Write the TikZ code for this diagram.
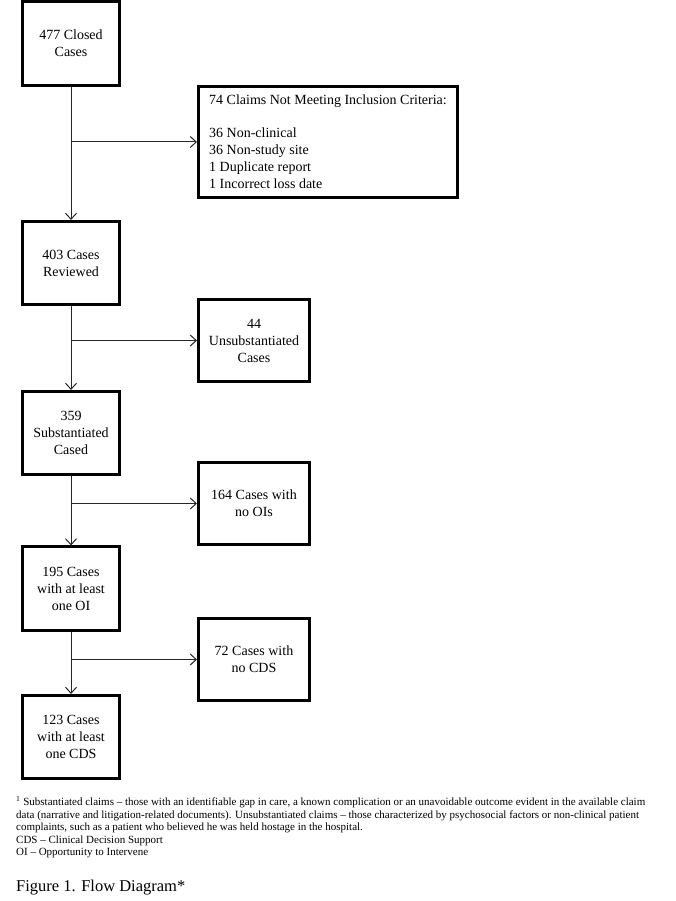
\documentclass[tikz,border=0pt]{standalone}
\usepackage{fontspec}
\setmainfont{Liberation Serif}
\usetikzlibrary{arrows.meta}
\begin{document}
\begin{tikzpicture}[x=1pt,y=-1pt,
  box/.style={draw=black, line width=2.6pt, inner sep=0pt, align=center,
    font=\fontsize{14}{17}\selectfont},
  smallbox/.style={box, minimum width=111.5pt, minimum height=82.5pt},
  mainbox/.style={box, minimum width=97.5pt, minimum height=83.5pt},
  listbox/.style={box, align=left, font=\fontsize{14}{17}\selectfont,
    minimum width=259.5pt, minimum height=111.5pt},
  arr/.style={draw=black!85, line width=1pt,
    -{Straight Barb[length=6pt,width=11pt,line width=1pt]}},
  foot/.style={anchor=base west, inner sep=0pt, font=\fontsize{11}{12.7}\selectfont},
  caption/.style={anchor=base west, inner sep=0pt, font=\fontsize{16.5}{19}\selectfont}]
\useasboundingbox[fill=white] (0,0) rectangle (676,901);

% main column
\node[mainbox] (n1) at (71,43.5) {477 Closed\\Cases};
\node[mainbox] (n3) at (71,263) {403 Cases\\Reviewed};
\node[mainbox] (n5) at (71,433) {359\\Substantiated\\Cased};
\node[mainbox] (n7) at (71,588.5) {195 Cases\\with at least\\one OI};
\node[mainbox] (n9) at (71,737) {123 Cases\\with at least\\one CDS};

% side boxes
\node[listbox] (n2) at (328,142)
  {74 Claims Not Meeting Inclusion Criteria:\\[16pt]
   36 Non-clinical\\36 Non-study site\\1 Duplicate report\\1 Incorrect loss date};
\node[smallbox] (n4) at (254,340.5) {44\\Unsubstantiated\\Cases};
\node[smallbox] (n6) at (254,503.5) {164 Cases with\\no OIs};
\node[smallbox] (n8) at (254,659.5) {72 Cases with\\no CDS};

% branch points
\coordinate (b1) at (n1.south |- n2.west);
\coordinate (b2) at (n3.south |- n4.west);
\coordinate (b3) at (n5.south |- n6.west);
\coordinate (b4) at (n7.south |- n8.west);

% connectors
\draw[arr] (n1.south) -- (n3.north);
\draw[arr] (n3.south) -- (n5.north);
\draw[arr] (n5.south) -- (n7.north);
\draw[arr] (n7.south) -- (n9.north);
\draw[arr] (b1) -- (n2.west);
\draw[arr] (b2) -- (n4.west);
\draw[arr] (b3) -- (n6.west);
\draw[arr] (b4) -- (n8.west);

% footnotes
\node[foot] (f1) at (16,805.5) {\textsuperscript{1} Substantiated claims -- those with an identifiable gap in care, a known complication or an unavoidable outcome evident in the available claim};
\node[foot] (f2) at (16,818) {data (narrative and litigation-related documents). Unsubstantiated claims -- those characterized by psychosocial factors or non-clinical patient};
\node[foot] (f3) at (16,830.5) {complaints, such as a patient who believed he was held hostage in the hospital.};
\node[foot] (f4) at (16,843) {CDS -- Clinical Decision Support};
\node[foot] (f5) at (16,855.5) {OI -- Opportunity to Intervene};
\node[caption] (cap) at (16,891) {Figure 1. Flow Diagram*};
\end{tikzpicture}
\end{document}
